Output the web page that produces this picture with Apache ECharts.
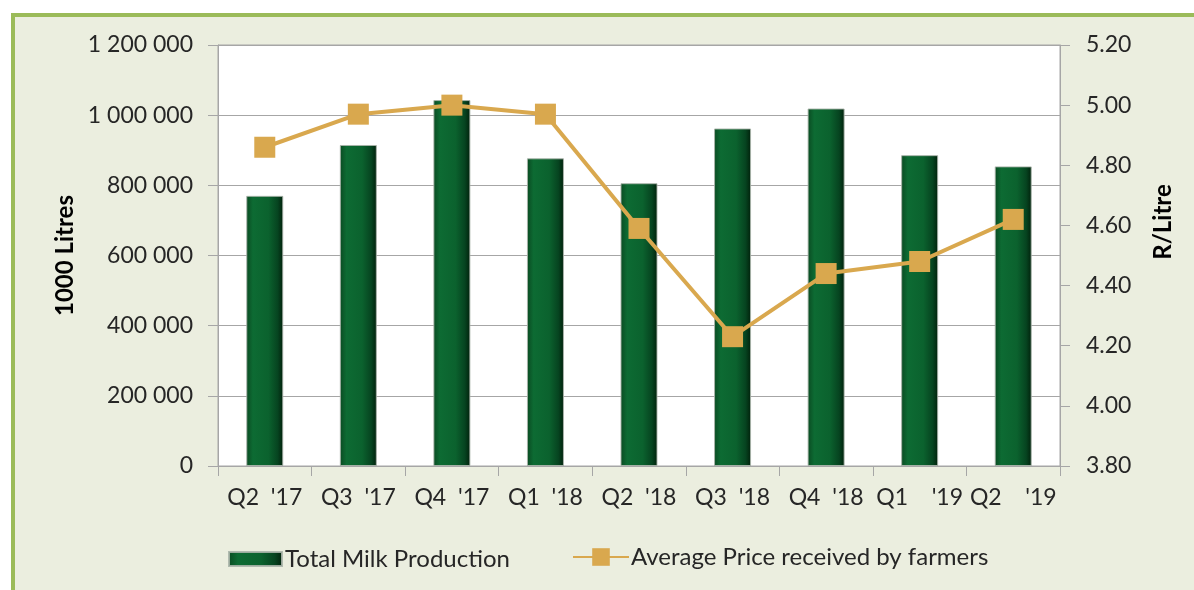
<!DOCTYPE html>
<html>
<head>
<meta charset="utf-8">
<script src="https://cdn.jsdelivr.net/npm/echarts@6/dist/echarts.min.js"></script>
<style>
  html, body { margin: 0; padding: 0; background: #ffffff; }
  #frame {
    position: absolute; left: 11px; top: 13px; width: 1183px; height: 577px;
    background: #ebeedf; border-top: 4px solid #9bbb59; border-left: 4px solid #9bbb59;
    box-sizing: border-box;
  }
  #chart { position: absolute; left: 0; top: 0; width: 1194px; height: 590px; }
</style>
</head>
<body>
<div id="frame"></div>
<div id="chart"></div>
<script>
// Quarterly milk production and average farm-gate price
const quarters = ["Q2  '17", "Q3  '17", "Q4  '17", "Q1  '18", "Q2  '18", "Q3  '18", "Q4  '18", "Q1    '19", "Q2    '19"];
const milkProduction = [770000, 915000, 1043000, 877000, 806000, 962000, 1019000, 886000, 854000];
const avgPrice = [4.86, 4.97, 5.00, 4.97, 4.59, 4.23, 4.44, 4.48, 4.62];

const fontFamily = 'Lato, "Open Sans", sans-serif';
const textColor = '#262626';
const gridGrey = '#a6a6a6';
const gold = '#d9a84e';

const barFill = new echarts.graphic.LinearGradient(0, 0, 1, 0, [
  { offset: 0, color: '#0a4a22' },
  { offset: 0.18, color: '#0d6b33' },
  { offset: 0.6, color: '#0b622e' },
  { offset: 0.85, color: '#064420' },
  { offset: 1, color: '#01200b' }
]);

const chart = echarts.init(document.getElementById('chart'), null, { renderer: 'canvas' });
chart.setOption({
  backgroundColor: 'transparent',
  animation: false,
  grid: { left: 218, right: 134, top: 45, bottom: 124, show: true, backgroundColor: '#ffffff', borderColor: gridGrey, borderWidth: 1 },
  legend: [
    {
      left: 223, top: 542,
      itemWidth: 53, itemHeight: 14,
      textStyle: { fontFamily, fontSize: 24, color: textColor, padding: [0, 0, 0, -2] },
      data: [{ name: 'Total Milk Production', icon: 'rect', itemStyle: { color: barFill } }]
    },
    {
      left: 567, top: 540,
      itemWidth: 56, itemHeight: 22,
      textStyle: { fontFamily, fontSize: 24, color: textColor, padding: [0, 0, 0, -3] },
      data: [{ name: 'Average Price received by farmers' }]
    }
  ],
  xAxis: {
    type: 'category',
    data: quarters,
    axisLine: { show: true, lineStyle: { color: gridGrey, width: 1 } },
    axisTick: { show: true, length: 10, lineStyle: { color: gridGrey } },
    axisLabel: { fontFamily, fontSize: 23, color: textColor, margin: 20, interval: 0 }
  },
  yAxis: [
    {
      type: 'value', min: 0, max: 1200000, interval: 200000,
      name: '1000 Litres', nameLocation: 'middle', nameGap: 141, nameRotate: 90,
      nameTextStyle: { fontFamily, fontSize: 24, fontWeight: 'bold', color: '#000000' },
      axisLine: { show: true, lineStyle: { color: gridGrey } },
      axisTick: { show: true, length: 10, lineStyle: { color: gridGrey } },
      splitLine: { show: true, lineStyle: { color: gridGrey, width: 1 } },
      axisLabel: {
        fontFamily, fontSize: 23, color: textColor, margin: 25,
        formatter: v => String(v).replace(/\B(?=(\d{3})+(?!\d))/g, ' ')
      }
    },
    {
      type: 'value', min: 3.8, max: 5.2, interval: 0.2,
      axisLine: { show: true, lineStyle: { color: gridGrey } },
      axisTick: { show: true, length: 10, lineStyle: { color: gridGrey } },
      splitLine: { show: false },
      axisLabel: { fontFamily, fontSize: 23, color: textColor, margin: 26, formatter: v => v.toFixed(2) }
    }
  ],
  // Right-axis title, set beside the tick labels a little above the middle
  graphic: [{
    type: 'text',
    x: 1163, y: 222, rotation: Math.PI / 2,
    style: {
      text: 'R/Litre', fontFamily, fontSize: 24, fontWeight: 'bold', fill: '#000000',
      align: 'center', verticalAlign: 'middle'
    }
  }],
  series: [
    {
      name: 'Total Milk Production',
      type: 'bar',
      yAxisIndex: 0,
      data: milkProduction,
      barWidth: 37,
      itemStyle: { color: barFill, borderColor: 'rgba(170,180,170,0.9)', borderWidth: 1 }
    },
    {
      name: 'Average Price received by farmers',
      type: 'line',
      yAxisIndex: 1,
      data: avgPrice,
      symbol: 'rect',
      symbolSize: 21,
      lineStyle: { color: gold, width: 4 },
      itemStyle: { color: gold }
    }
  ]
});
</script>
</body>
</html>
